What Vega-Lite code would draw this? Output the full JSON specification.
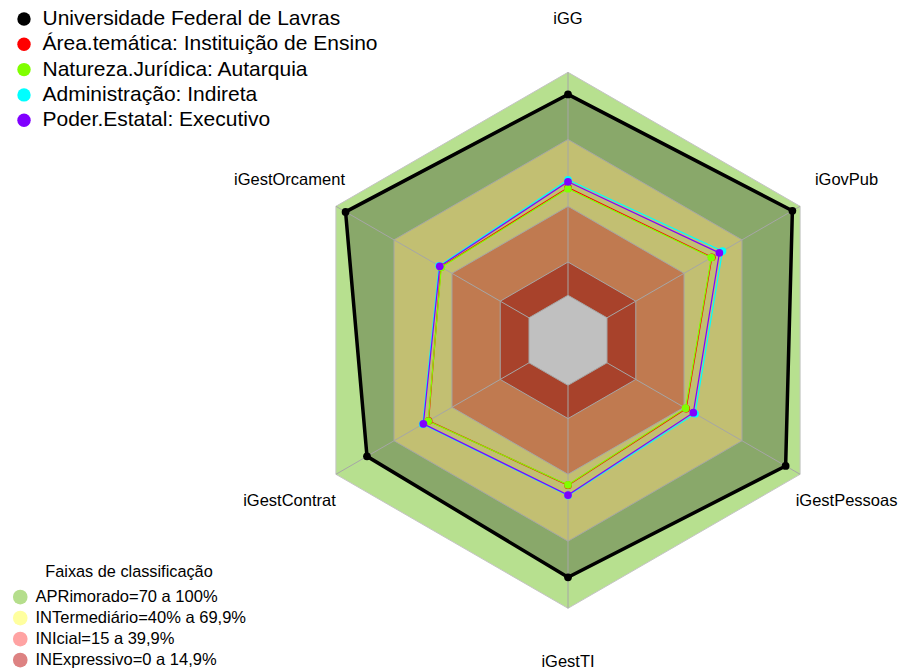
{
  "$schema": "https://vega.github.io/schema/vega-lite/v6.json",
  "width": 901,
  "height": 669,
  "autosize": "none",
  "padding": 0,
  "background": "white",
  "config": {"view": {"stroke": null}, "font": "Liberation Sans"},
  "datasets": {
    "axes": [
      {"axis": "iGG", "k": 0},
      {"axis": "iGovPub", "k": 1},
      {"axis": "iGestPessoas", "k": 2},
      {"axis": "iGestTI", "k": 3},
      {"axis": "iGestContrat", "k": 4},
      {"axis": "iGestOrcament", "k": 5}
    ],
    "bands": [
      {"faixa": "APRimorado=70 a 100%", "level": 100, "k": [0, 1, 2, 3, 4, 5]},
      {"faixa": "INTermediário=40% a 69,9%", "level": 69.9, "k": [0, 1, 2, 3, 4, 5]},
      {"faixa": "INIcial=15 a 39,9%", "level": 39.9, "k": [0, 1, 2, 3, 4, 5]},
      {"faixa": "INExpressivo=0 a 14,9%", "level": 14.9, "k": [0, 1, 2, 3, 4, 5]},
      {"faixa": "centro", "level": 0, "k": [0, 1, 2, 3, 4, 5]}
    ],
    "scores": [
      {"serie": "Universidade Federal de Lavras", "axis": "iGG", "value": 90.1},
      {"serie": "Universidade Federal de Lavras", "axis": "iGovPub", "value": 96},
      {"serie": "Universidade Federal de Lavras", "axis": "iGestPessoas", "value": 92.5},
      {"serie": "Universidade Federal de Lavras", "axis": "iGestTI", "value": 86.1},
      {"serie": "Universidade Federal de Lavras", "axis": "iGestContrat", "value": 83.9},
      {"serie": "Universidade Federal de Lavras", "axis": "iGestOrcament", "value": 95},
      {"serie": "Área.temática: Instituição de Ensino", "axis": "iGG", "value": 48.3},
      {"serie": "Área.temática: Instituição de Ensino", "axis": "iGovPub", "value": 54.3},
      {"serie": "Área.temática: Instituição de Ensino", "axis": "iGestPessoas", "value": 41},
      {"serie": "Área.temática: Instituição de Ensino", "axis": "iGestTI", "value": 44.8},
      {"serie": "Área.temática: Instituição de Ensino", "axis": "iGestContrat", "value": 52},
      {"serie": "Área.temática: Instituição de Ensino", "axis": "iGestOrcament", "value": 45.6},
      {"serie": "Natureza.Jurídica: Autarquia", "axis": "iGG", "value": 47.8},
      {"serie": "Natureza.Jurídica: Autarquia", "axis": "iGovPub", "value": 54},
      {"serie": "Natureza.Jurídica: Autarquia", "axis": "iGestPessoas", "value": 40.7},
      {"serie": "Natureza.Jurídica: Autarquia", "axis": "iGestTI", "value": 44.6},
      {"serie": "Natureza.Jurídica: Autarquia", "axis": "iGestContrat", "value": 52.2},
      {"serie": "Natureza.Jurídica: Autarquia", "axis": "iGestOrcament", "value": 45.4},
      {"serie": "Administração: Indireta", "axis": "iGG", "value": 51.8},
      {"serie": "Administração: Indireta", "axis": "iGovPub", "value": 59.8},
      {"serie": "Administração: Indireta", "axis": "iGestPessoas", "value": 45.6},
      {"serie": "Administração: Indireta", "axis": "iGestTI", "value": 49.4},
      {"serie": "Administração: Indireta", "axis": "iGestContrat", "value": 55},
      {"serie": "Administração: Indireta", "axis": "iGestOrcament", "value": 46.6},
      {"serie": "Poder.Estatal: Executivo", "axis": "iGG", "value": 50.9},
      {"serie": "Poder.Estatal: Executivo", "axis": "iGovPub", "value": 58.2},
      {"serie": "Poder.Estatal: Executivo", "axis": "iGestPessoas", "value": 44.7},
      {"serie": "Poder.Estatal: Executivo", "axis": "iGestTI", "value": 49.2},
      {"serie": "Poder.Estatal: Executivo", "axis": "iGestContrat", "value": 54.7},
      {"serie": "Poder.Estatal: Executivo", "axis": "iGestOrcament", "value": 46.2}
    ]
  },
  "encoding": {
    "x": {"field": "x", "type": "quantitative", "scale": {"domain": [-2.1194, 1.2425], "nice": false, "zero": false}, "axis": null},
    "y": {"field": "y", "type": "quantitative", "scale": {"domain": [-1.2265, 1.2698], "nice": false, "zero": false}, "axis": null}
  },
  "layer": [
    {
      "data": {"name": "bands"},
      "transform": [{"filter": "datum.level > 0"}],
      "mark": {"type": "point", "filled": true, "shape": "circle", "size": 60, "opacity": 1},
      "encoding": {
        "x": {"datum": 0, "type": "quantitative"},
        "y": {"datum": 0, "type": "quantitative"},
        "fill": {
          "field": "faixa", "type": "nominal",
          "scale": {
            "domain": ["APRimorado=70 a 100%", "INTermediário=40% a 69,9%", "INIcial=15 a 39,9%", "INExpressivo=0 a 14,9%"],
            "range": ["#b5de8c", "#ffff9f", "#ffa3a3", "#dd8282"]
          },
          "legend": {
            "orient": "none", "legendX": 12, "legendY": 564, "padding": 0,
            "title": "Faixas de classificação", "titleFontSize": 16.3, "titleFontWeight": "normal",
            "titleFont": "Liberation Sans", "titleColor": "#000000", "titleAnchor": "middle", "titlePadding": 8.5,
            "labelFontSize": 16.5, "labelFont": "Liberation Sans", "labelColor": "#000000", "labelLimit": 500,
            "symbolType": "circle", "symbolSize": 215, "symbolStrokeWidth": 0, "symbolOpacity": 1, "labelOffset": 7, "rowPadding": 4
          }
        }
      }
    },
    {
      "data": {"name": "bands"},
      "transform": [
        {"filter": "datum.level == 100"}, {"flatten": ["k"]},
        {"calculate": "PI/2 - datum.k*PI/3", "as": "a"},
        {"calculate": "(datum.level + 20.2)/120.2", "as": "r"},
        {"calculate": "datum.r*cos(datum.a)", "as": "x"},
        {"calculate": "datum.r*sin(datum.a)", "as": "y"}
      ],
      "mark": {"type": "line", "interpolate": "linear-closed", "fill": "#b7e08f", "stroke": "#c4c4c4", "strokeWidth": 1},
      "encoding": {"order": {"field": "k", "type": "quantitative"}}
    },
    {
      "data": {"name": "scores"},
      "transform": [
        {"filter": "datum.serie == 'Universidade Federal de Lavras'"},
        {"lookup": "axis", "from": {"data": {"name": "axes"}, "key": "axis", "fields": ["k"]}},
        {"calculate": "PI/2 - datum.k*PI/3", "as": "a"},
        {"calculate": "(datum.value + 20.2)/120.2", "as": "r"},
        {"calculate": "datum.r*cos(datum.a)", "as": "x"},
        {"calculate": "datum.r*sin(datum.a)", "as": "y"}
      ],
      "mark": {"type": "line", "interpolate": "linear-closed", "fill": "#89a86a", "strokeWidth": 0},
      "encoding": {"order": {"field": "k", "type": "quantitative"}}
    },
    {
      "data": {"name": "bands"},
      "transform": [
        {"filter": "datum.level == 69.9"}, {"flatten": ["k"]},
        {"calculate": "PI/2 - datum.k*PI/3", "as": "a"},
        {"calculate": "(datum.level + 20.2)/120.2", "as": "r"},
        {"calculate": "datum.r*cos(datum.a)", "as": "x"},
        {"calculate": "datum.r*sin(datum.a)", "as": "y"}
      ],
      "mark": {"type": "line", "interpolate": "linear-closed", "fill": "#c2bf72", "stroke": "#a6a6a6", "strokeWidth": 1},
      "encoding": {"order": {"field": "k", "type": "quantitative"}}
    },
    {
      "data": {"name": "bands"},
      "transform": [
        {"filter": "datum.level == 39.9"}, {"flatten": ["k"]},
        {"calculate": "PI/2 - datum.k*PI/3", "as": "a"},
        {"calculate": "(datum.level + 20.2)/120.2", "as": "r"},
        {"calculate": "datum.r*cos(datum.a)", "as": "x"},
        {"calculate": "datum.r*sin(datum.a)", "as": "y"}
      ],
      "mark": {"type": "line", "interpolate": "linear-closed", "fill": "#c07a50", "stroke": "#a6a6a6", "strokeWidth": 1},
      "encoding": {"order": {"field": "k", "type": "quantitative"}}
    },
    {
      "data": {"name": "bands"},
      "transform": [
        {"filter": "datum.level == 14.9"}, {"flatten": ["k"]},
        {"calculate": "PI/2 - datum.k*PI/3", "as": "a"},
        {"calculate": "(datum.level + 20.2)/120.2", "as": "r"},
        {"calculate": "datum.r*cos(datum.a)", "as": "x"},
        {"calculate": "datum.r*sin(datum.a)", "as": "y"}
      ],
      "mark": {"type": "line", "interpolate": "linear-closed", "fill": "#a8422b", "stroke": "#a6a6a6", "strokeWidth": 1},
      "encoding": {"order": {"field": "k", "type": "quantitative"}}
    },
    {
      "data": {"name": "bands"},
      "transform": [
        {"filter": "datum.level == 0"}, {"flatten": ["k"]},
        {"calculate": "PI/2 - datum.k*PI/3", "as": "a"},
        {"calculate": "(datum.level + 20.2)/120.2", "as": "r"},
        {"calculate": "datum.r*cos(datum.a)", "as": "x"},
        {"calculate": "datum.r*sin(datum.a)", "as": "y"}
      ],
      "mark": {"type": "line", "interpolate": "linear-closed", "fill": "#c0c0c0", "stroke": "#a6a6a6", "strokeWidth": 1},
      "encoding": {"order": {"field": "k", "type": "quantitative"}}
    },
    {
      "data": {"name": "axes"},
      "transform": [
        {"calculate": "PI/2 - datum.k*PI/3", "as": "a"},
        {"calculate": "(20.2/120.2)*cos(datum.a)", "as": "x"},
        {"calculate": "(20.2/120.2)*sin(datum.a)", "as": "y"},
        {"calculate": "cos(datum.a)", "as": "x2"},
        {"calculate": "sin(datum.a)", "as": "y2"}
      ],
      "mark": {"type": "rule", "color": "#a6a6a6", "strokeWidth": 1},
      "encoding": {"x2": {"field": "x2"}, "y2": {"field": "y2"}}
    },
    {
      "data": {"name": "scores"},
      "transform": [
        {"filter": "datum.serie == 'Universidade Federal de Lavras'"},
        {"lookup": "axis", "from": {"data": {"name": "axes"}, "key": "axis", "fields": ["k"]}},
        {"calculate": "PI/2 - datum.k*PI/3", "as": "a"},
        {"calculate": "(datum.value + 20.2)/120.2", "as": "r"},
        {"calculate": "datum.r*cos(datum.a)", "as": "x"},
        {"calculate": "datum.r*sin(datum.a)", "as": "y"}
      ],
      "mark": {"type": "line", "interpolate": "linear-closed", "color": "#000000", "strokeWidth": 3.5},
      "encoding": {"order": {"field": "k", "type": "quantitative"}}
    },
    {
      "data": {"name": "scores"},
      "transform": [
        {"filter": "datum.serie != 'Universidade Federal de Lavras'"},
        {"lookup": "axis", "from": {"data": {"name": "axes"}, "key": "axis", "fields": ["k"]}},
        {"calculate": "PI/2 - datum.k*PI/3", "as": "a"},
        {"calculate": "(datum.value + 20.2)/120.2", "as": "r"},
        {"calculate": "datum.r*cos(datum.a)", "as": "x"},
        {"calculate": "datum.r*sin(datum.a)", "as": "y"}
      ],
      "mark": {"type": "line", "interpolate": "linear-closed", "strokeWidth": 1.2},
      "encoding": {
        "order": {"field": "k", "type": "quantitative"},
        "stroke": {
          "field": "serie", "type": "nominal",
          "scale": {
            "domain": ["Área.temática: Instituição de Ensino", "Natureza.Jurídica: Autarquia", "Administração: Indireta", "Poder.Estatal: Executivo"],
            "range": ["#FF0000", "#80FF00", "#00FFFF", "#8000FF"]
          },
          "legend": null
        }
      }
    },
    {
      "data": {"name": "scores"},
      "transform": [
        {"lookup": "axis", "from": {"data": {"name": "axes"}, "key": "axis", "fields": ["k"]}},
        {"calculate": "PI/2 - datum.k*PI/3", "as": "a"},
        {"calculate": "(datum.value + 20.2)/120.2", "as": "r"},
        {"calculate": "datum.r*cos(datum.a)", "as": "x"},
        {"calculate": "datum.r*sin(datum.a)", "as": "y"}
      ],
      "mark": {"type": "point", "filled": true, "shape": "circle", "size": 60, "opacity": 1},
      "encoding": {
        "color": {
          "field": "serie", "type": "nominal",
          "scale": {
            "domain": ["Universidade Federal de Lavras", "Área.temática: Instituição de Ensino", "Natureza.Jurídica: Autarquia", "Administração: Indireta", "Poder.Estatal: Executivo"],
            "range": ["#000000", "#FF0000", "#80FF00", "#00FFFF", "#8000FF"]
          },
          "legend": {
            "orient": "none", "legendX": 13.5, "legendY": 8.5, "padding": 0, "title": null,
            "labelFontSize": 21, "labelFont": "Liberation Sans", "labelColor": "#000000", "labelLimit": 600,
            "symbolType": "circle", "symbolSize": 180, "symbolStrokeWidth": 0, "symbolOpacity": 1, "labelOffset": 8, "rowPadding": 3.3
          }
        }
      }
    },
    {
      "data": {"name": "axes"},
      "transform": [
        {"calculate": "PI/2 - datum.k*PI/3", "as": "a"},
        {"calculate": "1.2*cos(datum.a)", "as": "x"},
        {"calculate": "1.2*sin(datum.a)", "as": "y"}
      ],
      "mark": {"type": "text", "fontSize": 16.5, "font": "Liberation Sans", "color": "#000000", "align": "center", "baseline": "middle"},
      "encoding": {"text": {"field": "axis"}}
    }
  ]
}
